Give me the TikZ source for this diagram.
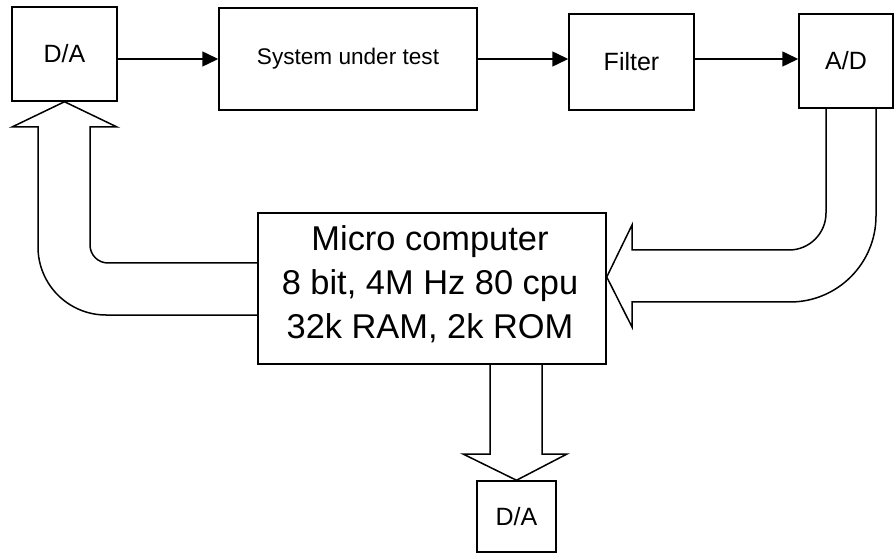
\documentclass[tikz,border=0pt]{standalone}
\usepackage{fontspec}
\setmainfont{Liberation Sans}
\usetikzlibrary{arrows.meta}
\tikzset{
  x=1pt, y=-1pt,
  blk/.style={draw, line width=1.5pt, inner sep=0pt, font=\fontsize{25}{30}\selectfont},
  sig/.style={line width=1.5pt, -{Triangle[length=16pt,width=15pt]}},
  fat/.style={draw, line width=1.5pt, line join=miter}
}
\begin{document}
\begin{tikzpicture}
\useasboundingbox (0,0) rectangle (894,553);
% boxes
\node[blk, minimum width=105pt, minimum height=94pt] (da1) at (64.5,54) {D/A};
\node[blk, minimum width=258pt, minimum height=102pt, font=\fontsize{22.6}{27}\selectfont] (sys) at (348,59) {System under test};
\node[blk, minimum width=125pt, minimum height=96pt] (filt) at (631.5,62) {Filter};
\node[blk, minimum width=94pt, minimum height=94pt] (ad) at (846,61) {A/D};
\node[blk, minimum width=348pt, minimum height=151pt] (micro) at (432,288.5) {};
\node[inner sep=0pt, anchor=north, align=center, font=\fontsize{34.4}{44}\selectfont] (microtxt) at (430,225) {Micro computer\\8 bit, 4M Hz 80 cpu\\32k RAM, 2k ROM};
\node[blk, minimum width=79pt, minimum height=71pt] (da2) at (516.5,516.5) {D/A};
% signal arrows
\draw[sig] (da1.east |- sys.west) -- (sys.west);
\draw[sig] (sys.east) -- (filt.west |- sys.east);
\draw[sig] (filt.east |- sys.east) -- (ad.west |- sys.east);
% fat arrow: micro -> upper D/A
\draw[fat] (micro.west |- 0,263) -- (108,263) arc[start angle=90, end angle=180, radius=18]
  -- (90,127) -- (117,127) -- (da1.south) -- (12,127) -- (38,127) -- (38,247)
  arc[start angle=180, end angle=90, radius=68] -- (micro.west |- 0,315);
% fat arrow: A/D -> micro
\draw[fat] (ad.south -| 826,0) -- (826,213) arc[start angle=0, end angle=90, radius=37]
  -- (632,250) -- (632,225) -- (micro.east |- 0,277) -- (632,327) -- (632,302) -- (790,302)
  arc[start angle=90, end angle=0, radius=86] -- (ad.south -| 876,0);
% fat arrow: micro -> lower D/A
\draw[fat] (micro.south -| 490,0) -- (490,454) -- (463,454) -- (da2.north) -- (567,454) -- (542,454) -- (micro.south -| 542,0);
\end{tikzpicture}
\end{document}
